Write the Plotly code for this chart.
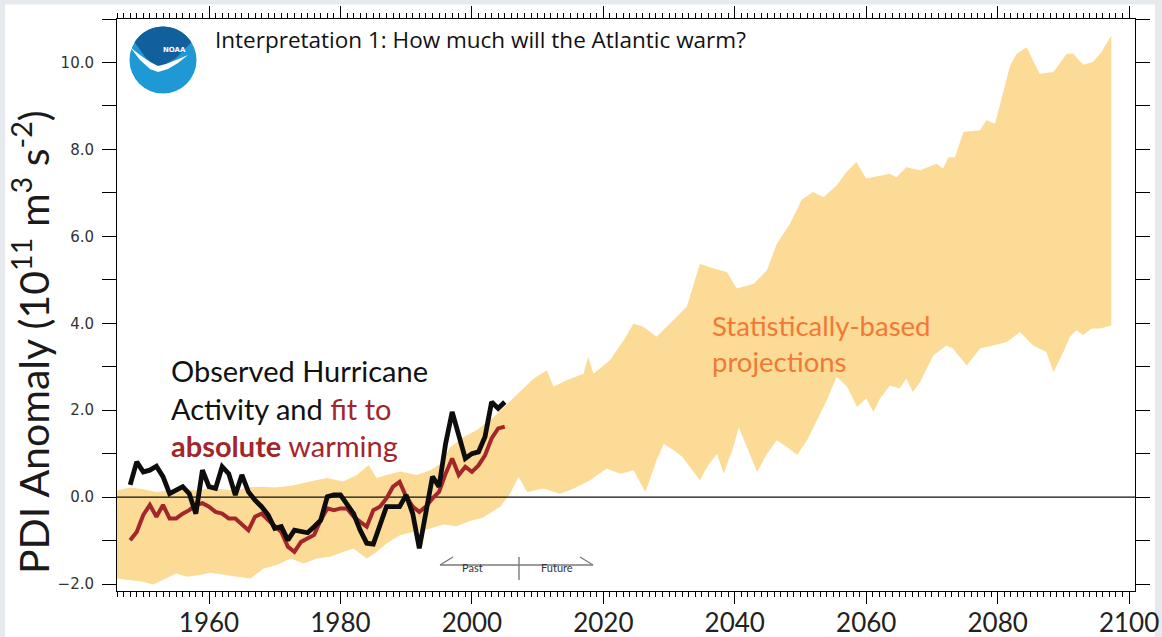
import math
import plotly.graph_objects as go

# ---------------- data ----------------
obs_years = list(range(1948, 2006))
observed_pdi = [
    0.28, 0.81, 0.58, 0.62, 0.71, 0.47, 0.08, 0.16, 0.24, 0.08,
    -0.38, 0.62, 0.24, 0.20, 0.70, 0.54, 0.05, 0.51, 0.12, -0.07,
    -0.22, -0.41, -0.72, -0.68, -0.99, -0.76, -0.80, -0.82, -0.68, -0.53,
    0.01, 0.05, 0.05, -0.15, -0.38, -0.76, -1.06, -1.08, -0.64, -0.22,
    -0.22, -0.22, 0.05, -0.38, -1.18, -0.30, 0.47, 0.24, 1.23, 1.96,
    1.39, 0.89, 1.00, 1.04, 1.39, 2.19, 2.04, 2.19,
]
fit_absolute = [
    -0.99, -0.80, -0.41, -0.18, -0.45, -0.18, -0.49, -0.49, -0.38, -0.30,
    -0.18, -0.14, -0.22, -0.34, -0.38, -0.49, -0.49, -0.64, -0.76, -0.45,
    -0.38, -0.53, -0.68, -0.80, -1.14, -1.26, -1.03, -0.95, -0.87, -0.53,
    -0.26, -0.30, -0.26, -0.26, -0.45, -0.57, -0.68, -0.30, -0.22, -0.03,
    0.24, 0.35, 0.01, -0.22, -0.34, -0.22, -0.03, 0.12, 0.54, 0.89,
    0.51, 0.70, 0.58, 0.73, 0.96, 1.35, 1.58, 1.62,
]

# statistically-based projection envelope: upper and lower edges
band_upper_years = [
    1946, 1948, 1950, 1952, 1954, 1956, 1958, 1960, 1962, 1964, 1966, 1968,
    1970, 1972.5, 1975.4, 1977.9, 1980.4, 1982.5, 1984.3, 1985.5, 1987, 1989.1,
    1991.6, 1993.7, 1995.2, 1996.7, 1998.7, 2000.7, 2003.3, 2005.8, 2007.1,
    2009.4, 2011.4, 2012.4, 2014.4, 2017, 2017.7, 2018.5, 2021, 2023.1, 2024.6,
    2026.1, 2028.1, 2030.7, 2032.7, 2034.7, 2036.8, 2038.8, 2040.3, 2042.9,
    2044.9, 2046.4, 2048.4, 2050.2, 2051.9, 2053.5, 2055.5, 2057, 2058.5, 2060,
    2062.1, 2063.6, 2064.6, 2066.1, 2068.2, 2070.7, 2071.7, 2072.5, 2073.5,
    2074.8, 2077.3, 2078.3, 2079.6, 2080.3, 2081.9, 2082.9, 2084.4, 2086.4,
    2088.5, 2090.5, 2091.5, 2093, 2094.5, 2095.8, 2097.3,
]
band_upper = [
    0.15, 0.22, 0.18, 0.12, 0.16, 0.20, 0.15, 0.20, 0.18, 0.15, 0.22, 0.24,
    0.22, 0.26, 0.36, 0.44, 0.36, 0.51, 0.74, 0.44, 0.51, 0.59,
    0.51, 0.62, 0.77, 1.15, 1.38, 1.54, 1.84, 2.20, 2.38,
    2.73, 2.92, 2.54, 2.69, 2.84, 3.23, 2.84, 3.15, 3.61, 3.99,
    3.92, 3.69, 4.07, 4.38, 5.37, 5.26, 5.18, 4.80, 4.91,
    5.22, 5.83, 6.29, 6.85, 7.02, 6.90, 7.17, 7.48, 7.71, 7.33,
    7.40, 7.44, 7.36, 7.59, 7.52, 7.67, 7.56, 7.82, 7.82,
    8.40, 8.44, 8.67, 8.59, 9.01, 9.93, 10.20, 10.35, 9.74,
    9.78, 10.20, 10.20, 9.95, 10.01, 10.24, 10.62,
]
band_lower_years = [
    1946, 1948, 1950, 1951.5, 1953, 1955, 1956.6, 1958.6, 1960.2, 1962.2,
    1964.3, 1966.3, 1968.3, 1970.3, 1972.4, 1974.4, 1976.4, 1978.4, 1980.4,
    1982, 1984, 1985.5, 1987, 1989.1, 1991, 1993, 1995.7, 1997.7, 1999.7,
    2001.7, 2004.3, 2005.8, 2007.1, 2008.4, 2010.9, 2013.4, 2015.5, 2018,
    2020.5, 2022.6, 2024.6, 2026.4, 2028.1, 2029.2, 2030.7, 2032, 2033.2,
    2034.7, 2035.8, 2037.3, 2038.3, 2039.8, 2040.6, 2041.8, 2043.4, 2044.9,
    2046.4, 2047.9, 2049.5, 2051, 2052.5, 2054, 2055.5, 2057.1, 2058.6, 2060,
    2061.1, 2062.1, 2063.6, 2065.1, 2066.1, 2067.1, 2068.2, 2070.2, 2072.2,
    2073.2, 2075.3, 2077.3, 2079.3, 2081.4, 2083.4, 2085.4, 2087.4, 2088.5,
    2090, 2091, 2092, 2093, 2094.3, 2095.6, 2097.3,
]
band_lower = [
    -1.87, -1.91, -1.95, -2.01, -1.91, -1.76, -1.83, -1.79, -1.74, -1.79,
    -1.83, -1.87, -1.64, -1.56, -1.41, -1.53, -1.41, -1.37, -1.26,
    -1.18, -1.41, -1.26, -1.07, -0.87, -0.80, -0.75, -0.63, -0.67, -0.55,
    -0.47, -0.22, 0.08, 0.47, 0.12, 0.20, 0.08, 0.20, 0.39,
    0.66, 0.54, 0.62, 0.12, 0.85, 1.23, 1.08, 0.93, 0.70,
    0.39, 0.70, 1.00, 0.54, 1.16, 1.61, 1.16, 0.58, 1.00,
    1.31, 1.16, 0.97, 1.31, 1.77, 2.23, 2.77, 2.54, 2.08, 2.27,
    1.96, 2.27, 2.57, 2.50, 2.73, 2.42, 2.65, 3.26, 3.49,
    3.42, 3.03, 3.42, 3.49, 3.57, 3.80, 3.49, 3.34, 2.88,
    3.34, 3.69, 3.84, 3.73, 3.88, 3.88, 3.95,
]

x_major_ticks = [1960, 1980, 2000, 2020, 2040, 2060, 2080, 2100]
x_range = [1946, 2100.9]
y_range = [-2.16, 11.0]

# ---------------- styling ----------------
W, H = 1162, 637
PL, PR, PT, PB = 117, 1135, 19, 591          # plot area in pixels
BAND = "#fbdb96"
RED = "#a3262b"
ORANGE = "#ef7a37"
FONT = "Lato, 'Open Sans', sans-serif"


def px(x):
    return (x - PL) / (PR - PL)


def py(y):
    return (PB - y) / (PB - PT)


fig = go.Figure()

fig.add_trace(go.Scatter(
    x=band_upper_years + band_lower_years[::-1],
    y=band_upper + band_lower[::-1],
    fill="toself", fillcolor=BAND, mode="lines", line=dict(width=0),
    hoverinfo="skip", showlegend=False,
))
# zero reference line, above the envelope and below the curves
fig.add_trace(go.Scatter(
    x=x_range, y=[0, 0], mode="lines",
    line=dict(color="#111111", width=1.2), hoverinfo="skip", showlegend=False,
))
fig.add_trace(go.Scatter(
    x=obs_years, y=fit_absolute, mode="lines",
    line=dict(color=RED, width=4), showlegend=False,
))
fig.add_trace(go.Scatter(
    x=obs_years, y=observed_pdi, mode="lines",
    line=dict(color="#0d0d0d", width=4.8), showlegend=False,
))

shapes = []
grey = "#e6e9ee"
for x0, y0, x1, y1 in [(0, 0, W, 4.5), (0, 0, 5, H), (1155, 0, W, H)]:
    shapes.append(dict(type="rect", xref="paper", yref="paper",
                       x0=px(x0), x1=px(x1), y0=py(y1), y1=py(y0),
                       fillcolor=grey, line=dict(width=0), layer="below"))

# past / future marker
arrow = dict(color="#7a7a7a", width=1.4)
for (x0, y0, x1, y1) in [(440, 565, 519, 565), (440, 565, 453, 557),
                         (519, 565, 593, 565), (593, 565, 580, 557),
                         (519, 557, 519, 580)]:
    shapes.append(dict(type="line", xref="paper", yref="paper",
                       x0=px(x0), y0=py(y0), x1=px(x1), y1=py(y1), line=arrow))

# NOAA emblem
cx, cy, r = 163, 60, 33.5
shapes.append(dict(type="circle", xref="paper", yref="paper",
                   x0=px(cx - r), x1=px(cx + r), y0=py(cy + r), y1=py(cy - r),
                   fillcolor="#1f98d6", line=dict(width=0)))
pts = []
for k in range(0, 21):
    a = math.radians(148 - k * (148 - 32) / 20)
    pts.append((cx + r * math.cos(a), cy - r * math.sin(a)))
pts += [(176, 58), (159, 68), (146, 58)]
path = "M " + " L ".join(f"{px(x):.5f},{py(y):.5f}" for x, y in pts) + " Z"
shapes.append(dict(type="path", xref="paper", yref="paper", path=path,
                   fillcolor="#125f9e", line=dict(width=0)))
bird = [(130, 47), (140, 60), (150, 69), (158, 72), (168, 69), (178, 63), (188, 55),
        (176, 60), (166, 64), (158, 66), (150, 62), (140, 55)]
path = "M " + " L ".join(f"{px(x):.5f},{py(y):.5f}" for x, y in bird) + " Z"
shapes.append(dict(type="path", xref="paper", yref="paper", path=path,
                   fillcolor="white", line=dict(width=0)))

annotations = [
    dict(x=px(161), y=py(44), xref="paper", yref="paper", text="<b>NOAA</b>",
         showarrow=False, font=dict(family="DejaVu Sans", size=7, color="white")),
    dict(x=px(213), y=py(40), xref="paper", yref="paper", xanchor="left",
         yanchor="middle", showarrow=False,
         text="Interpretation 1: How much will the Atlantic warm?",
         font=dict(family="Open Sans", size=22.5, color="#111111")),
    dict(x=px(169), y=py(408), xref="paper", yref="paper", xanchor="left",
         yanchor="middle", align="left", showarrow=False,
         text=("Observed Hurricane<br>Activity and "
               f"<span style='color:{RED}'>fit to</span><br>"
               f"<span style='color:{RED}'><b>absolute</b> warming</span>"),
         font=dict(family=FONT, size=29, color="#111111")),
    dict(x=px(710), y=py(344), xref="paper", yref="paper", xanchor="left",
         yanchor="middle", align="left", showarrow=False,
         text="Statistically-based<br>projections",
         font=dict(family=FONT, size=27.5, color=ORANGE)),
    dict(x=px(472), y=py(576), xref="paper", yref="paper", showarrow=False,
         text="Past", font=dict(family=FONT, size=11, color="#333333")),
    dict(x=px(557), y=py(576), xref="paper", yref="paper", showarrow=False,
         text="Future", font=dict(family=FONT, size=11, color="#333333")),
    dict(x=px(2), y=py(342), xref="paper", yref="paper", showarrow=False,
         textangle=-90,
         text="PDI Anomaly (10<sup>11</sup> m<sup>3</sup> s<sup>-2</sup>)",
         font=dict(family=FONT, size=41, color="#1a1a1a")),
]

fig.update_layout(
    width=W, height=H,
    margin=dict(l=PL, r=W - PR, t=PT, b=H - PB, pad=0, autoexpand=False),
    paper_bgcolor="white", plot_bgcolor="white",
    shapes=shapes, annotations=annotations,
    showlegend=False,
    xaxis=dict(
        range=x_range, tickvals=x_major_ticks, ticks="outside", ticklen=12,
        tickwidth=1, tickcolor="black", showline=True, linecolor="black",
        linewidth=1, mirror="ticks", showgrid=False, zeroline=False,
        automargin=False, ticklabelstandoff=-3,
        tickfont=dict(family=FONT, size=26, color="#222222"),
        minor=dict(dtick=1, tick0=1946, ticks="outside", ticklen=5,
                   tickwidth=1, tickcolor="black", showgrid=False),
    ),
    yaxis=dict(
        range=y_range, tick0=0, dtick=2, tickformat=".1f",
        ticks="outside", ticklen=14, tickwidth=1, tickcolor="black",
        showline=True, linecolor="black", linewidth=1, mirror="ticks",
        showgrid=False, zeroline=False, automargin=False, ticklabelstandoff=5,
        tickfont=dict(family="DejaVu Sans", size=15, color="#333333"),
        minor=dict(dtick=1, tick0=0, ticks="outside", ticklen=14,
                   tickwidth=1, tickcolor="black", showgrid=False),
    ),
)

fig.write_html("out.html")
